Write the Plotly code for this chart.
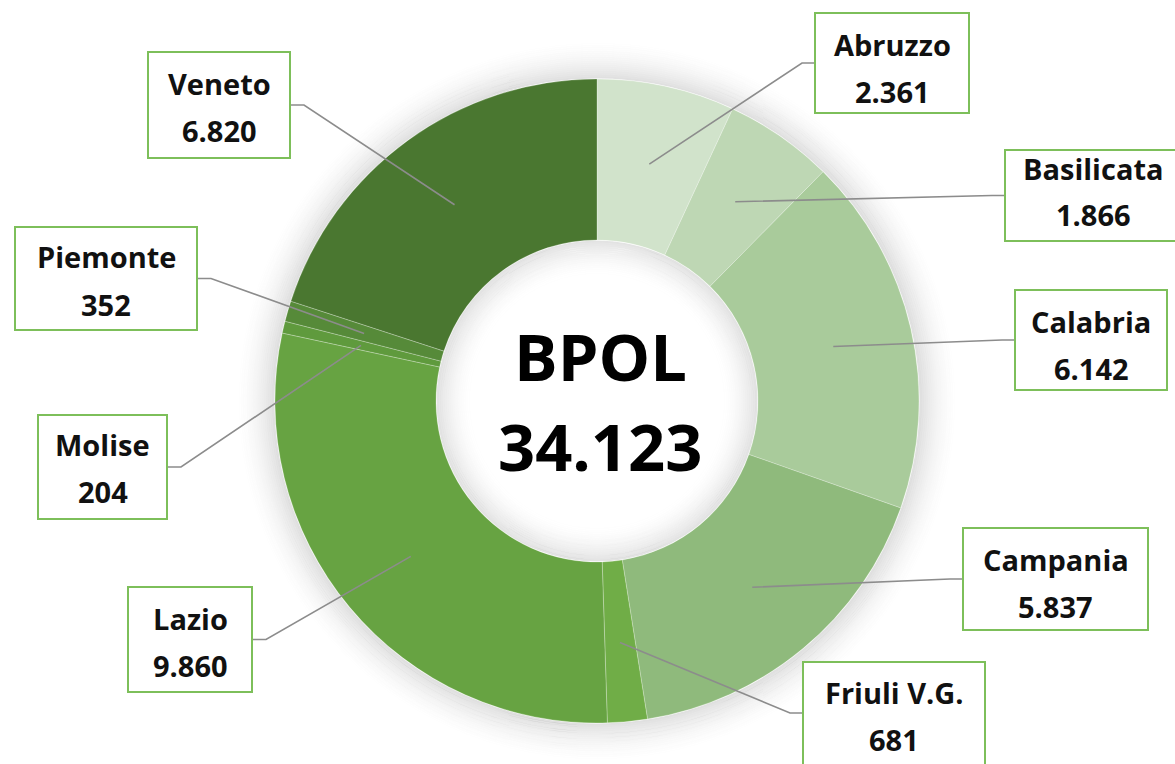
import math
import plotly.graph_objects as go

# ---- data ----
regions = ["Abruzzo", "Basilicata", "Calabria", "Campania", "Friuli V.G.",
           "Lazio", "Molise", "Piemonte", "Veneto"]
values = [2361, 1866, 6142, 5837, 681, 9860, 204, 352, 6820]
value_labels = ["2.361", "1.866", "6.142", "5.837", "681", "9.860", "204", "352", "6.820"]
center_title = "BPOL"
center_total = "34.123"

colors = ["#D1E3CB", "#BED7B4", "#A9CB9B", "#8FBA7C", "#70AD47",
          "#67A342", "#5F9A3D", "#568A39", "#4A7730"]

# ---- layout geometry (pixels) ----
W, H = 1175, 764
CX, CY, R = 597, 401, 322
HOLE = 0.5

# label boxes: (left, top, right, bottom, text offset from top) in pixels
boxes = {
    "Abruzzo": (815, 13, 969, 113, 31),
    "Basilicata": (1005, 150, 1181, 241, 18),
    "Calabria": (1015, 290, 1167, 390, 31),
    "Campania": (963, 528, 1148, 630, 31),
    "Friuli V.G.": (803, 662, 985, 772, 30),
    "Lazio": (128, 587, 252, 692, 31),
    "Molise": (38, 415, 167, 519, 29),
    "Piemonte": (15, 227, 197, 330, 30),
    "Veneto": (148, 52, 290, 158, 31),
}
right_side = {"Abruzzo", "Basilicata", "Calabria", "Campania", "Friuli V.G."}


def px(x):
    return x / W


def py(y):
    return 1 - y / H


fig = go.Figure()
fig.add_trace(go.Pie(
    labels=regions, values=values, sort=False, direction="clockwise",
    rotation=0, hole=HOLE, textinfo="none", hoverinfo="label+value",
    marker=dict(colors=colors, line=dict(color="rgba(255,255,255,0.25)", width=1)),
    domain=dict(x=[px(CX - R), px(CX + R)], y=[py(CY + R), py(CY - R)]),
    showlegend=False,
))

shapes = []
# outer soft shadow
N_OUT = 20
for k in range(N_OUT):
    rr = R + 1.5 + k * 2
    a = 0.12 * (1 - k / N_OUT) ** 1.8
    shapes.append(dict(type="circle", xref="paper", yref="paper", layer="below",
                       x0=px(CX - rr), x1=px(CX + rr), y0=py(CY + rr), y1=py(CY - rr),
                       line=dict(color=f"rgba(0,0,0,{a:.4f})", width=2.1), fillcolor="rgba(0,0,0,0)"))
# inner hole shadow
RH = R * HOLE
N_IN = 18
for k in range(N_IN):
    rr = RH - 1.5 - k * 2
    a = 0.11 * (1 - k / N_IN) ** 1.8
    shapes.append(dict(type="circle", xref="paper", yref="paper", layer="below",
                       x0=px(CX - rr), x1=px(CX + rr), y0=py(CY + rr), y1=py(CY - rr),
                       line=dict(color=f"rgba(0,0,0,{a:.4f})", width=2.1), fillcolor="rgba(0,0,0,0)"))

annotations = []
total = sum(values)
cum = 0
rmid = (R + RH) / 2 + 1
for name, v, vl in zip(regions, values, value_labels):
    ang = (cum + v / 2) / total * 2 * math.pi
    cum += v
    sx = CX + rmid * math.sin(ang)
    sy = CY - rmid * math.cos(ang)
    l, t, r, b, off = boxes[name]
    ymid = (t + b) / 2 if name != "Friuli V.G." else 713
    if name in right_side:
        ex, elx = l, l - 13
    else:
        ex, elx = r, r + 14
    path = f"M {px(sx)},{py(sy)} L {px(elx)},{py(ymid)} L {px(ex)},{py(ymid)}"
    shapes.append(dict(type="path", xref="paper", yref="paper", layer="above", path=path,
                       line=dict(color="#8C8C8C", width=1.6)))
    shapes.append(dict(type="rect", xref="paper", yref="paper", layer="above",
                       x0=px(l), x1=px(r), y0=py(b), y1=py(t),
                       line=dict(color="#7DBF5A", width=2), fillcolor="white"))
    xc = (l + r) / 2
    annotations.append(dict(xref="paper", yref="paper", x=px(xc), y=py(t + off),
                            text=f"<b>{name}</b>", showarrow=False, xanchor="center", yanchor="middle",
                            font=dict(family="Open Sans", size=29, color="#111111")))
    annotations.append(dict(xref="paper", yref="paper", x=px(xc), y=py(t + off + 47),
                            text=f"<b>{vl}</b>", showarrow=False, xanchor="center", yanchor="middle",
                            font=dict(family="Open Sans", size=29, color="#111111")))

annotations.append(dict(xref="paper", yref="paper", x=px(CX + 3), y=py(356),
                        text=f"<b>{center_title}</b>", showarrow=False, xanchor="center", yanchor="middle",
                        font=dict(family="Open Sans", size=65, color="#000000")))
annotations.append(dict(xref="paper", yref="paper", x=px(CX + 3), y=py(446),
                        text=f"<b>{center_total}</b>", showarrow=False, xanchor="center", yanchor="middle",
                        font=dict(family="Open Sans", size=65, color="#000000")))

fig.update_layout(width=W, height=H, margin=dict(l=0, r=0, t=0, b=0),
                  paper_bgcolor="white", plot_bgcolor="white",
                  shapes=shapes, annotations=annotations)
fig.write_html("out.html")
